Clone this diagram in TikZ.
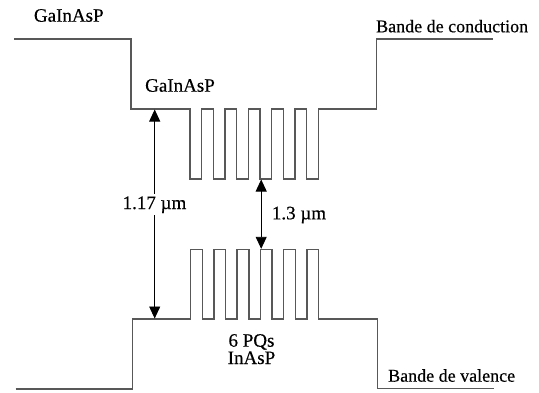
\documentclass[tikz,border=0pt]{standalone}
\usepackage{fontspec}
\setmainfont[FakeBold=0.4,AutoFakeBold=0.4]{Liberation Serif}
\usetikzlibrary{arrows.meta}
\definecolor{bandgray}{RGB}{88,88,88}
\tikzset{
  band/.style={draw=bandgray, line width=1.4pt, line join=miter},
  gap/.style={draw=black, line width=0.9pt, {Triangle[width=11pt,length=12pt]}-{Triangle[width=11pt,length=12pt]}},
  lbl/.style={inner sep=0pt, font=\fontsize{19}{21}\selectfont},
  lblsmall/.style={inner sep=0pt, font=\fontsize{18}{20}\selectfont},
}
\begin{document}
\begin{tikzpicture}[x=1pt,y=-1pt]
\useasboundingbox (0,0) rectangle (539,392);
% conduction band
\draw[band] (14,39) -- (131,39) -- (131,109) -- (190,109)
  \foreach \k in {0,...,5}{ -- ({190+23.3*\k},109) -- ({190+23.3*\k},179) -- ({201.7+23.3*\k},179) -- ({201.7+23.3*\k},109)}
  -- (376.7,109) -- (376.7,39) -- (492.7,39);
% valence band
\draw[band] (15.7,389) -- (132.7,389) -- (132.7,319) -- (190.5,319)
  \foreach \k in {0,...,5}{ -- ({190.5+23.3*\k},319) -- ({190.5+23.3*\k},249.3) -- ({202.2+23.3*\k},249.3) -- ({202.2+23.3*\k},319)}
  -- (377.7,319) -- (377.7,388.5) -- (494.3,388.5);
% arrow endpoints
\coordinate (a1t) at (154.7,109.5);
\coordinate (a1b) at (154.7,318.5);
\coordinate (a2t) at (261.2,179.5);
\coordinate (a2b) at (261.2,248.8);
\draw[gap] (a1t) -- (a1b);
\draw[gap] (a2t) -- (a2b);
% labels
\node[lbl, anchor=base] (g1) at (68.8,21.7) {GaInAsP};
\node[lbl, anchor=base] (g2) at (180,91.7) {GaInAsP};
\node[lblsmall, anchor=base west] (bc) at (376,32.3) {Bande de conduction};
\node[lblsmall, anchor=base west] (bv) at (388,381.7) {Bande de valence};
\node[lbl, anchor=base, fill=white, inner sep=2pt] (l1) at (154.5,209) {1.17 µm};
\node[lbl, anchor=base west] (l2) at (271.7,219.3) {1.3 µm};
\node[lbl, anchor=base] (pq) at (251.5,346.7) {6 PQs};
\node[lbl, anchor=base] (ip) at (251.5,364) {InAsP};
\end{tikzpicture}
\end{document}
